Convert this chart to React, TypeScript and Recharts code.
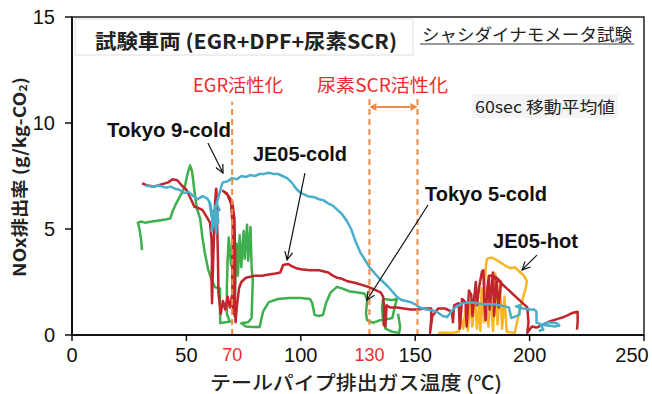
import React from 'react';
import {
  LineChart,
  Line,
  XAxis,
  YAxis,
  ReferenceLine,
  ReferenceArea,
} from 'recharts';

// NOx emission rate vs. tailpipe exhaust temperature, 60 s moving average.
// Each trace is a path in time order: [temperature (°C), NOx (g/kg-CO2)].

const xTicks = [0, 50, 70, 100, 130, 150, 200, 250];
const redTicks = [70, 130];
const yTicks = [0, 5, 10, 15];
const rightTicks = [0, 1.5, 3, 4.5, 6, 7.5, 9, 10.5, 12, 13.5, 15];

const tokyo9Cold: [number, number][] = [
  [32, 7.05], [35, 7.0], [38, 7.05], [41, 6.95], [43, 7.0], [45, 6.9], [47, 6.85],
  [49, 6.7], [51, 6.75], [53, 6.55], [55, 6.4], [57, 6.55], [59, 6.45], [60, 6.3],
  [61, 5.6], [60.5, 6.2], [61.5, 5.2], [62, 5.9], [61, 4.9], [62.5, 5.5], [63, 4.8],
  [63.5, 5.8], [64, 5.3], [62.5, 6.1], [63, 5.4], [61.8, 5.7], [64.5, 5.9], [63.2, 6.2],
  [64, 6.5], [65.5, 7.1],
  [66, 7.2], [68, 7.25], [70, 7.4], [72, 7.35], [74, 7.5], [76, 7.45], [78, 7.55],
  [80, 7.5], [82, 7.6], [84, 7.6], [86, 7.65], [88, 7.6], [90, 7.6], [92, 7.5],
  [94, 7.4], [96, 7.2], [98, 6.9], [100, 6.7], [103, 6.55], [106, 6.5], [108, 6.4],
  [110, 6.35], [112, 6.2], [114, 6.1], [116, 5.9], [118, 5.7], [120, 5.4], [122, 5.0],
  [124, 4.4], [126, 3.9], [128, 3.55], [130, 3.2], [132, 2.95], [134, 2.7], [136, 2.5],
  [138, 2.3], [140, 2.05], [142, 1.8], [144, 1.65], [146, 1.6], [148, 1.55], [150, 1.45],
  [152, 1.3], [155, 1.2], [158, 1.15], [160, 1.05], [162, 0.9], [164, 0.85], [165, 1.0],
  [166.5, 1.2], [168, 1.35], [171, 1.5], [174, 1.55], [177, 1.5], [180, 1.45], [184, 1.45],
  [187, 1.4], [189, 1.35], [191, 1.3], [192, 0.8], [195.5, 0.95], [195.8, 1.4], [194, 1.35],
  [197, 1.25], [200, 1.2], [202, 1.2], [203, 1.1], [203, 0.6], [205, 0.5], [208, 0.45],
  [211, 0.4], [213, 0.45], [212, 0.55], [208, 0.6], [205, 0.45], [206, 0.25], [204, 0.2],
];

const je05Cold: [number, number][] = [
  [30.6, 7.15], [33, 7.05], [36, 7.0], [39, 7.1], [42, 7.2], [44, 7.35], [46, 7.3],
  [48, 7.05], [50, 6.85], [52, 6.4], [53.5, 6.05], [55, 6.0], [57, 5.9], [59, 5.55],
  [60.3, 5.3], [61, 4.5], [61.2, 3.5], [61, 2.5], [61.2, 1.5], [61.5, 2.8], [62, 4.5],
  [62.5, 6.2], [63, 6.9], [63.3, 6.5], [63.5, 5.0], [63.8, 3.5], [64, 2.0], [65, 1.0],
  [66, 1.6], [67, 1.2], [68, 1.8], [69, 1.3], [70, 1.9], [70.5, 1.0], [70, 2.5],
  [70.3, 5.0], [69.5, 6.2], [68, 6.6], [66, 6.8], [67.5, 6.7], [70, 6.3], [71, 5.5],
  [71.3, 3.5], [71.2, 1.5], [71.5, 0.6], [72, 1.3], [73, 2.2], [74, 2.5], [76, 2.7],
  [78, 2.75], [80, 2.8], [83, 2.8], [86, 2.85], [89, 2.9], [91, 2.95], [92.3, 3.3],
  [94.5, 3.35], [96, 3.25], [98, 3.15], [100, 3.1], [104, 3.05], [108, 3.05], [112, 2.95],
  [114, 2.8], [116, 2.7], [118, 2.65], [120, 2.55], [124, 2.45], [127, 2.35], [130, 2.25],
  [133, 2.1], [135, 2.0], [136, 1.8], [136.5, 1.2], [136.2, 0.5], [137, 0.4], [137.5, 1.4],
  [139, 1.3], [142, 1.3], [145, 1.25], [148, 1.2], [151, 1.2], [154, 1.25], [157, 1.25],
  [157, 0.8], [156.5, 0.1], [157.5, 0.9], [160, 1.25], [163, 1.25], [166, 1.1], [166.5, 0.6],
  [167, 1.4], [169, 1.5], [169.5, 0.3], [170.5, 1.7], [172, 1.55], [172.5, 0.4],
  [173.5, 2.1], [174.5, 1.9], [175, 0.9], [176.5, 2.5], [177, 1.4], [178, 2.3],
  [179.2, 3.0], [179.8, 3.05], [180.2, 1.6], [180.8, 0.7], [181.5, 2.2], [182.2, 2.8],
  [182.5, 1.2], [184, 2.95], [184.5, 0.9], [185.5, 2.6], [186.5, 1.3], [187.5, 2.5],
  [185, 2.75], [183, 2.8], [187, 2.5], [190, 2.2], [193, 1.9], [196, 1.6],
  [199, 1.3], [199.5, 0.6], [199, 0.1], [201, 0.4], [203, 0.35], [206, 0.5], [209, 0.65],
  [212, 0.75], [215, 0.85], [217, 0.95], [219, 1.05], [221, 1.1], [221, 0.6], [220.7, 0.25],
];

const tokyo5Cold: [number, number][] = [
  [30.6, 4.0], [30.2, 4.5], [29.5, 5.0], [28.8, 5.3], [30, 5.35], [32, 5.3], [35, 5.35],
  [38, 5.4], [41, 5.45], [43, 5.5], [44, 5.85], [45.5, 6.2], [47, 6.5], [48.5, 6.8],
  [49.5, 7.1], [50.5, 7.6], [51.6, 8.0], [52.5, 7.7], [53.5, 6.8], [54.5, 6.0], [56, 5.5],
  [57, 4.6], [58, 3.9], [59.5, 3.1], [61, 2.6], [62.5, 2.25], [64.7, 2.2], [64.7, 1.2],
  [64.8, 0.57], [67, 0.6], [69, 0.62], [67.7, 1.0], [67.7, 2.3], [68, 3.5], [68.5, 4.6],
  [69.5, 3.3], [70, 4.0], [70.5, 2.5], [71, 0.9], [71.5, 3.5], [72, 4.3], [72.5, 2.8],
  [73.3, 4.7], [74, 3.2], [75, 4.9], [75.5, 3.6], [76.5, 5.2], [77, 3.5], [78, 5.1],
  [78.5, 3.2], [79, 2.6], [78.5, 0.8], [77, 0.6], [74, 0.55], [76, 0.4], [79, 0.38],
  [82, 0.38], [83.5, 1.1], [86, 1.55], [90, 1.7], [95, 1.75], [100, 1.75], [104, 1.7],
  [105, 1.5], [106, 0.95], [108, 0.9], [109.7, 0.95], [111, 1.5], [113, 2.0], [115.8, 2.27],
  [118, 2.2], [121.5, 2.05], [125, 2.0], [128, 1.95], [129, 1.65], [128.5, 1.0], [129, 0.7],
  [131.6, 0.57], [134.6, 0.7], [138, 0.75], [140, 0.8], [141, 1.3], [142, 1.7], [140, 1.65],
  [136, 1.7], [135.5, 1.3], [135.8, 0.8], [137, 0.3], [140, 0.15], [143, 0.1], [143.4, 0.4],
  [142.5, 1.0],
];

const je05Hot: [number, number][] = [
  [160, 0.1], [163, 0.12], [166, 0.1], [169, 0.15], [170, 0.8], [171, 0.3], [172, 1.2],
  [173, 0.2], [174, 1.6], [175, 0.4], [176, 1.9], [177, 0.3], [178, 1.5], [178.5, 0.2],
  [179, 2.2], [180, 0.6], [180.5, 2.6], [181, 3.4], [181.5, 3.6], [183, 3.65], [184.5, 3.6],
  [186, 3.5], [187.5, 3.4], [189, 3.3], [190.5, 3.2], [192, 3.15], [193.5, 3.2], [194.5, 3.1],
  [196, 2.95], [197.5, 2.8], [198.8, 2.55], [198.5, 2.3], [197.5, 1.9], [196.5, 1.5],
  [195.5, 1.1], [194.5, 0.6], [193.5, 0.1], [190, 0.15], [189, 1.8], [188, 0.3], [187, 2.4],
  [186, 0.5], [185, 2.9], [184, 0.2], [183, 2.0], [182, 0.4], [181, 1.2],
];

const toRows = (pts: [number, number][]) => pts.map(([x, y]) => ({ x, y }));

const series = [
  { name: 'JE05-hot', data: toRows(je05Hot), color: '#F7B523' },
  { name: 'Tokyo 5-cold', data: toRows(tokyo5Cold), color: '#3DAF4C' },
  { name: 'JE05-cold', data: toRows(je05Cold), color: '#C1242C' },
  { name: 'Tokyo 9-cold', data: toRows(tokyo9Cold), color: '#48AECB' },
];

// pointer arrows from the labels to their traces
const pointers = [
  { from: { x: 59.4, y: 9.06 }, to: { x: 66.0, y: 7.64 } },
  { from: { x: 101.8, y: 7.64 }, to: { x: 94.0, y: 3.54 } },
  { from: { x: 155.6, y: 6.13 }, to: { x: 128.9, y: 1.65 } },
  { from: { x: 203.2, y: 3.77 }, to: { x: 196.7, y: 3.07 } },
];

const ORANGE = '#EE8A45';
const RED_TEXT = '#F02A2A';
const NUM_FONT = "'Liberation Sans Narrow', 'Arial Narrow', 'Liberation Sans', Arial, sans-serif";
const JP_FONT = "'Noto Sans CJK JP', 'Noto Sans', sans-serif";
const LATIN_BOLD = "'Liberation Sans', Arial, sans-serif";

function XTick(props: any) {
  const { x, y, payload } = props;
  const red = redTicks.includes(payload.value);
  // keep the last label inside the canvas
  const tx = Math.min(x, 652 - 20);
  return (
    <g>
      {!red && <line x1={x} x2={x} y1={y - 13} y2={y - 7} stroke="#111" strokeWidth={1.5} />}
      <text
        x={tx}
        y={y}
        dy="0.71em"
        textAnchor="middle"
        fontFamily={NUM_FONT}
        fontSize={red ? 18 : 20}
        fill={red ? RED_TEXT : '#111'}
      >
        {payload.value}
      </text>
    </g>
  );
}

function PointerArrow(props: any) {
  const { x1, y1, x2, y2 } = props;
  const a = Math.atan2(y2 - y1, x2 - x1);
  const len = 9;
  const spread = 0.45;
  const p1 = [x2 - len * Math.cos(a - spread), y2 - len * Math.sin(a - spread)];
  const p2 = [x2 - len * Math.cos(a + spread), y2 - len * Math.sin(a + spread)];
  return (
    <g stroke="#111" strokeWidth={1.2} fill="none">
      <line x1={x1} y1={y1} x2={x2} y2={y2} />
      <polyline points={`${p1[0]},${p1[1]} ${x2},${y2} ${p2[0]},${p2[1]}`} />
    </g>
  );
}

function DoubleArrow(props: any) {
  const { x1, y1, x2, y2 } = props;
  const h = 7;
  return (
    <g>
      <line x1={x1 + h} y1={y1} x2={x2 - h} y2={y2} stroke={ORANGE} strokeWidth={2} />
      <polygon points={`${x1},${y1} ${x1 + h},${y1 - 4} ${x1 + h},${y1 + 4}`} fill={ORANGE} />
      <polygon points={`${x2},${y2} ${x2 - h},${y2 - 4} ${x2 - h},${y2 + 4}`} fill={ORANGE} />
    </g>
  );
}

function Overlay() {
  return (
    <svg
      width={652}
      height={394}
      style={{ position: 'absolute', left: 0, top: 0, pointerEvents: 'none' }}
    >
      <rect x={75} y={19} width={338} height={36} fill="#fff" stroke="#dedede" />
      <text x={95} y={49} fontFamily={JP_FONT} fontWeight={700} fontSize={20} fill="#222"
        textLength={302} lengthAdjust="spacingAndGlyphs">
        試験車両 (EGR+DPF+尿素SCR)
      </text>

      <text x={422} y={41} fontFamily={JP_FONT} fontSize={17} fill="#222"
        textLength={210} lengthAdjust="spacingAndGlyphs">
        シャシダイナモメータ試験
      </text>
      <line x1={420} x2={634} y1={44} y2={44} stroke="#333" strokeWidth={1.2} />

      <rect x={472} y={94} width={146} height={24} fill="#f4f4f4" />
      <text x={475} y={113} fontFamily={JP_FONT} fontSize={16} fill="#222"
        textLength={140} lengthAdjust="spacingAndGlyphs">
        60sec 移動平均値
      </text>

      <text x={193} y={92} fontFamily={JP_FONT} fontSize={18} fill={RED_TEXT}
        textLength={90} lengthAdjust="spacingAndGlyphs">
        EGR活性化
      </text>
      <text x={317} y={92} fontFamily={JP_FONT} fontSize={18} fill={RED_TEXT}
        textLength={131} lengthAdjust="spacingAndGlyphs">
        尿素SCR活性化
      </text>

      <text x={107} y={137} fontFamily={LATIN_BOLD} fontWeight={700} fontSize={20} fill="#111"
        textLength={124} lengthAdjust="spacingAndGlyphs">
        Tokyo 9-cold
      </text>
      <text x={253} y={161} fontFamily={LATIN_BOLD} fontWeight={700} fontSize={20} fill="#111"
        textLength={94} lengthAdjust="spacingAndGlyphs">
        JE05-cold
      </text>
      <text x={425} y={201} fontFamily={LATIN_BOLD} fontWeight={700} fontSize={20} fill="#111"
        textLength={122} lengthAdjust="spacingAndGlyphs">
        Tokyo 5-cold
      </text>
      <text x={493} y={248} fontFamily={LATIN_BOLD} fontWeight={700} fontSize={20} fill="#111"
        textLength={85} lengthAdjust="spacingAndGlyphs">
        JE05-hot
      </text>

      <text
        transform="translate(18,177) rotate(-90)"
        textAnchor="middle"
        dominantBaseline="central"
        fontFamily={JP_FONT}
        fontWeight={700}
        fontSize={17}
        fill="#222"
        textLength={200}
        lengthAdjust="spacingAndGlyphs"
      >
        NOx排出率 (g/kg-CO<tspan fontSize={11} dy={4}>2</tspan><tspan dy={-4}>)</tspan>
      </text>

      <text x={210} y={381} dominantBaseline="central" fontFamily={JP_FONT} fontWeight={500}
        fontSize={19} fill="#222" textLength={292} lengthAdjust="spacingAndGlyphs">
        テールパイプ排出ガス温度 (℃)
      </text>
    </svg>
  );
}

export default function App() {
  return (
    <div style={{ position: 'absolute', left: 0, top: 0, width: 652, height: 394, background: '#fff' }}>
      <LineChart width={652} height={394} margin={{ top: 17, right: 0, bottom: 0, left: 0 }}>
        <XAxis
          type="number"
          dataKey="x"
          domain={[0, 250]}
          ticks={xTicks}
          interval={0}
          height={59}
          tickSize={6}
          tickMargin={7}
          tickLine={false}
          tick={<XTick />}
          axisLine={{ stroke: '#111', strokeWidth: 2 }}
          allowDuplicatedCategory={false}
        />
        <YAxis
          type="number"
          domain={[0, 15]}
          ticks={yTicks}
          width={72}
          tickSize={7}
          tickMargin={10}
          axisLine={{ stroke: '#111', strokeWidth: 2 }}
          tickLine={{ stroke: '#111', strokeWidth: 1.5 }}
          tick={{ fontFamily: NUM_FONT, fontSize: 20, fill: '#111' }}
        />
        <YAxis
          yAxisId="r"
          orientation="right"
          type="number"
          domain={[0, 15]}
          ticks={rightTicks}
          width={8}
          tickSize={4}
          axisLine={false}
          tickLine={{ stroke: '#333', strokeWidth: 1 }}
          tick={() => <g />}
        />
        <ReferenceArea x1={0} x2={250} y1={0} y2={15} fill="none" stroke="#222" strokeWidth={1.5}
          ifOverflow="visible" />

        {series.map((s) => (
          <Line
            key={s.name}
            data={s.data}
            dataKey="y"
            name={s.name}
            type="linear"
            stroke={s.color}
            strokeWidth={2.5}
            strokeLinejoin="round"
            dot={false}
            activeDot={false}
            isAnimationActive={false}
          />
        ))}

        <ReferenceLine segment={[{ x: 70, y: 0 }, { x: 70, y: 11 }]} stroke={ORANGE}
          strokeWidth={2} strokeDasharray="6 4" />
        <ReferenceLine segment={[{ x: 130, y: 0 }, { x: 130, y: 11.3 }]} stroke={ORANGE}
          strokeWidth={2} strokeDasharray="6 4" />
        <ReferenceLine segment={[{ x: 151, y: 0 }, { x: 151, y: 11.3 }]} stroke={ORANGE}
          strokeWidth={2} strokeDasharray="6 4" />
        <ReferenceLine segment={[{ x: 130, y: 10.75 }, { x: 151, y: 10.75 }]}
          shape={(p: any) => <DoubleArrow {...p} />} />

        {pointers.map((p, i) => (
          <ReferenceLine key={i} segment={[p.from, p.to]} shape={(sp: any) => <PointerArrow {...sp} />} />
        ))}
      </LineChart>
      <Overlay />
    </div>
  );
}
